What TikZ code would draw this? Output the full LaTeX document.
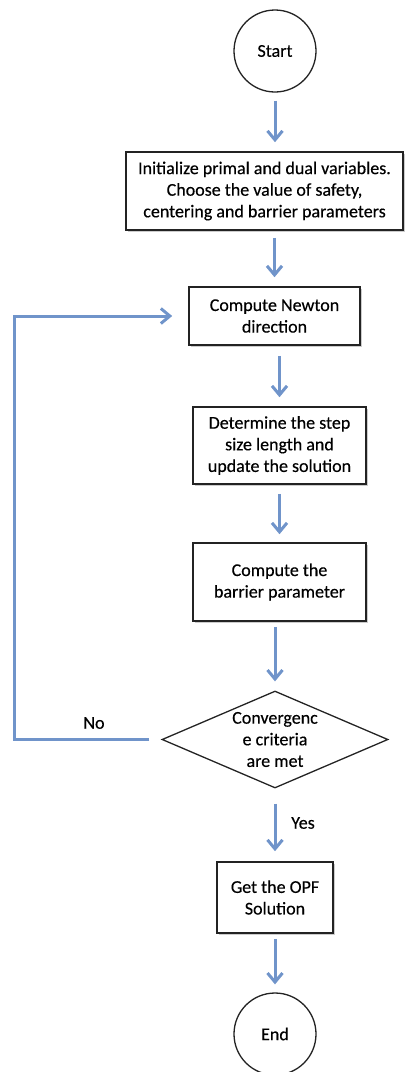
\documentclass[tikz,border=0pt]{standalone}
\usepackage{fontspec}
\setmainfont{Carlito}
\newfontfamily\flowfont{Carlito}[FakeBold=0.35]
\usetikzlibrary{shapes.geometric,arrows.meta,shadows}
\definecolor{flowblue}{RGB}{112,148,202}
\definecolor{edgegray}{RGB}{35,35,35}

\begin{document}
\begin{tikzpicture}[x=1pt, y=-1pt,
    every node/.style={font=\flowfont\fontsize{18}{21.6}\selectfont},
    terminal/.style={draw=edgegray, line width=1.3pt, circle, minimum size=82pt, inner sep=0pt},
    process/.style={draw=edgegray, line width=1.6pt, fill=white, align=center, inner sep=0pt,
      drop shadow={shadow xshift=2pt, shadow yshift=-2pt, opacity=0.4}},
    decision/.style={draw=edgegray, line width=1.3pt, diamond, shape aspect=2.33,
      inner sep=0pt, align=center},
    flow/.style={draw=flowblue, line width=3pt, -{Straight Barb[length=9pt, width=15pt]}}
  ]
    \useasboundingbox (0,0) rectangle (414,1072);

    % Start and initialisation
    \node[terminal] (start) at (275,51) {Start};
    \node[process, minimum width=277pt, minimum height=78pt] (init) at (264.5,191)
      {Initialize primal and dual variables.\\Choose the value of safety,\\centering and barrier parameters};

    % Main iteration
    \node[process, minimum width=171pt, minimum height=58pt] (newton) at (274.5,316)
      {Compute Newton\\direction};
    \node[process, minimum width=173pt, minimum height=77pt] (steplen) at (279.5,445.5)
      {Determine the step\\size length and\\update the solution};
    \node[process, minimum width=173pt, minimum height=78pt] (barrier) at (279.5,582)
      {Compute the\\barrier parameter};

    % Convergence test
    \node[decision, minimum width=226pt, minimum height=97pt] (conv) at (275,739.5)
      {Convergenc\\e criteria\\are met};
    \node (no) at (94,723) {No};
    \node (yes) at (303,823) {Yes};

    % Final steps
    \node[process, minimum width=116pt, minimum height=71pt] (opf) at (275,897.5)
      {Get the OPF\\Solution};
    \node[terminal] (end) at (275,1034) {End};

    % Arrows
    \draw[flow, shorten <=8pt, shorten >=9pt] (start) -- (start |- init.north);
    \draw[flow, shorten <=7pt, shorten >=9pt] (init.south -| newton) -- (newton.north);
    \draw[flow, shorten <=10pt, shorten >=9pt] (newton.south -| steplen) -- (steplen.north);
    \draw[flow, shorten <=9pt, shorten >=8pt] (steplen) -- (barrier);
    \draw[flow, shorten <=5pt, shorten >=9pt] (barrier.south -| conv) -- (conv.north);
    \draw[flow, shorten <=15pt, shorten >=10pt] (conv) -- (opf);
    \draw[flow, shorten <=5pt, shorten >=8pt] (opf) -- (end);

    % Loop back when not converged
    \draw[flow, shorten <=12pt, shorten >=16pt] (conv.west) -- ++(-147,0) |- (newton.west);
  \end{tikzpicture}
\end{document}
